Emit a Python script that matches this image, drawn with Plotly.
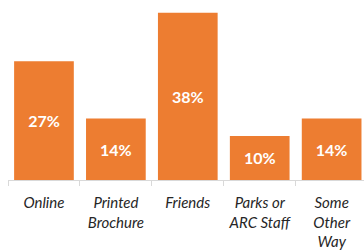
import plotly.graph_objects as go

categories = ["Online", "Printed<br>Brochure", "Friends", "Parks or<br>ARC Staff", "Some<br>Other<br>Way"]
values = [27, 14, 38, 10, 14]
labels = ["27%", "14%", "38%", "10%", "14%"]

fig = go.Figure(go.Bar(
    x=categories, y=values, text=labels,
    textposition="inside", insidetextanchor="middle",
    textfont=dict(family="Lato", size=16, color="white", weight="bold"),
    marker=dict(color="#ED7D31", line=dict(width=0)),
    hoverinfo="skip",
))

fig.update_layout(
    width=364, height=252,
    margin=dict(l=8, r=0, t=0, b=72, autoexpand=False),
    paper_bgcolor="white", plot_bgcolor="white",
    bargap=0.17,
    showlegend=False,
    uniformtext=dict(minsize=8, mode="show"),
)
fig.update_xaxes(
    range=[-0.5, 4.45], showline=True, linecolor="#D9D9D9", linewidth=1,
    ticks="outside", tickson="boundaries", ticklen=5, tickcolor="#D9D9D9",
    ticklabelstandoff=9,
    tickfont=dict(family="Lato", size=15, color="#262626", style="italic"),
    showgrid=False, fixedrange=True, automargin=False,
)
fig.update_yaxes(range=[0, 40.9], visible=False, showgrid=False, fixedrange=True, automargin=False)

fig.write_html("out.html", config={"displayModeBar": False},
               post_script="document.body.style.margin='0';document.body.style.overflow='hidden';")
